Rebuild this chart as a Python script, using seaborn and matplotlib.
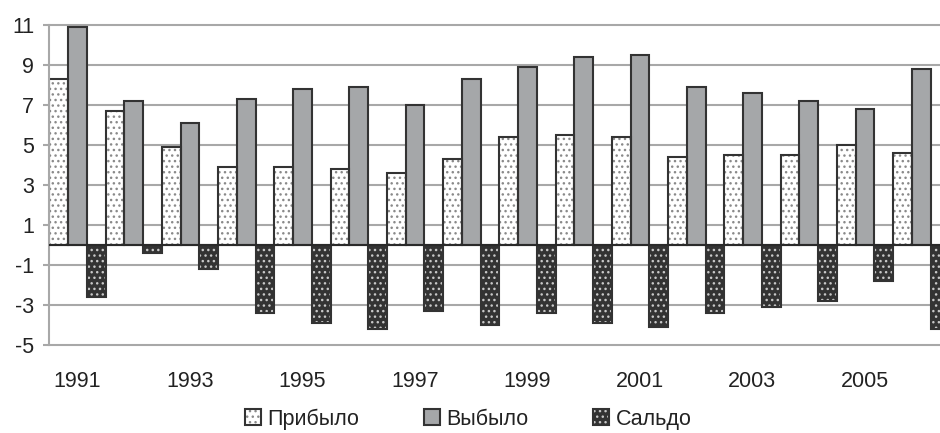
import matplotlib
matplotlib.use('Agg')
import numpy as np
import pandas as pd
import matplotlib.pyplot as plt
import seaborn as sns
from matplotlib.patches import Rectangle, Patch
from matplotlib.legend_handler import HandlerTuple

# ---- data ----
years = list(range(1991, 2007))
arrived = [8.3, 6.7, 4.9, 3.9, 3.9, 3.8, 3.6, 4.3, 5.4, 5.5, 5.4, 4.4, 4.5, 4.5, 5.0, 4.6]
departed = [10.9, 7.2, 6.1, 7.3, 7.8, 7.9, 7.0, 8.3, 8.9, 9.4, 9.5, 7.9, 7.6, 7.2, 6.8, 8.8]
balance = [-2.6, -0.4, -1.2, -3.4, -3.9, -4.2, -3.3, -4.0, -3.4, -3.9, -4.1, -3.4, -3.1, -2.8, -1.8, -4.2]
series_names = ['Прибыло', 'Выбыло', 'Сальдо']
yticks = [-5, -3, -1, 1, 3, 5, 7, 9, 11]
xtick_years = [1991, 1993, 1995, 1997, 1999, 2001, 2003, 2005]

df = pd.DataFrame({
    'year': years * 3,
    'value': arrived + departed + balance,
    'series': [n for n in series_names for _ in years],
})

sns.set_theme(style='white')
plt.rcParams['font.family'] = ['Liberation Sans', 'DejaVu Sans']
plt.rcParams['hatch.linewidth'] = 1.0

EDGE = '#333333'
GRID = '#a8a8a8'
TXT = '#222222'
FS = 15.5

fig = plt.figure(figsize=(9.4, 4.33), dpi=100)
ax = fig.add_axes([49.3 / 940, 88 / 433, 900 / 940, 320 / 433])

sns.barplot(data=df, x='year', y='value', hue='series', hue_order=series_names,
            order=years, width=1.0, palette=['white', '#a5a7a9', '#333333'],
            edgecolor=EDGE, linewidth=1.5, legend=False, ax=ax, zorder=2)

styles = {
    0: dict(face='white', hatchc='#8a8a8a', hatch='...'),
    1: dict(face='#a5a7a9', hatchc=None, hatch=None),
    2: dict(face='#333333', hatchc='#c8c8c8', hatch='...'),
}
for i, cont in enumerate(ax.containers):
    st = styles[i]
    for p in cont.patches:
        if st['hatch']:
            p.set_facecolor(st['face'])
            p.set_edgecolor(st['hatchc'])
            p.set_hatch(st['hatch'])
            p.set_linewidth(0)
            r = Rectangle(p.get_xy(), p.get_width(), p.get_height(), fill=False,
                          edgecolor=EDGE, linewidth=1.5, zorder=2.5)
            ax.add_patch(r)
        else:
            p.set_facecolor(st['face'])
            p.set_edgecolor(EDGE)
            p.set_linewidth(1.5)

ax.set_xlim(-0.5, len(years) - 0.5)
ax.set_ylim(-5, 11)
ax.set_yticks(yticks)
ax.set_yticklabels([str(v) for v in yticks], fontsize=FS, color=TXT)
ax.set_xticks([years.index(y) for y in xtick_years])
ax.set_xticklabels([str(y) for y in xtick_years], fontsize=FS, color=TXT)
ax.set_xlabel('')
ax.set_ylabel('')

ax.set_axisbelow(True)
ax.yaxis.grid(True, color=GRID, linewidth=1.5)
ax.xaxis.grid(False)
for gl in ax.get_ygridlines():
    gl.set_clip_on(False)
ax.axhline(0, color='#2a2a2a', linewidth=1.5, zorder=3)

for s in ['top', 'right', 'bottom']:
    ax.spines[s].set_visible(False)
ax.spines['left'].set_color(GRID)
ax.spines['left'].set_linewidth(1.5)

ax.tick_params(axis='y', which='both', left=True, length=4, width=1.5, color=GRID, pad=7)
ax.tick_params(axis='x', which='both', bottom=False, length=0, pad=19)

handles = [
    (Patch(facecolor='white', edgecolor='#8a8a8a', hatch='...', linewidth=0),
     Patch(facecolor='none', edgecolor=EDGE, linewidth=1.5)),
    Patch(facecolor='#a5a7a9', edgecolor=EDGE, linewidth=1.5),
    (Patch(facecolor='#333333', edgecolor='#c8c8c8', hatch='...', linewidth=0),
     Patch(facecolor='none', edgecolor=EDGE, linewidth=1.5)),
]
leg = fig.legend(handles, series_names, loc='center', bbox_to_anchor=(0.498, 0.032),
                 ncol=3, frameon=False, fontsize=FS, handlelength=0.75, handleheight=0.75,
                 handletextpad=0.3, columnspacing=3.0, borderpad=0.1,
                 handler_map={tuple: HandlerTuple(ndivide=1, pad=0)})
for t in leg.get_texts():
    t.set_color(TXT)

fig.savefig('out.png', dpi=100)
